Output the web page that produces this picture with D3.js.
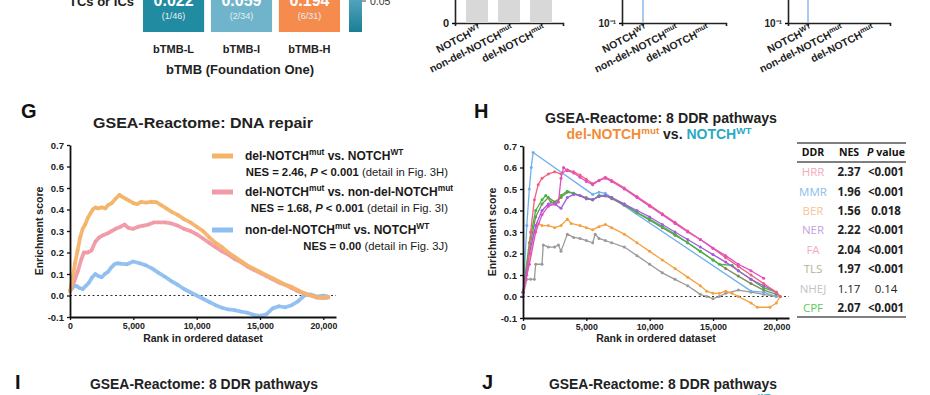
<!DOCTYPE html>
<html><head><meta charset="utf-8">
<script src="https://cdn.jsdelivr.net/npm/d3@7"></script>
<style>
body{margin:0;background:#fff;}
svg{display:block;font-family:"Liberation Sans",Arial,sans-serif;}
</style></head>
<body><svg id="c" width="930" height="395"></svg>
<script>
// ---------------- DATA ----------------
const tmbCats = ["bTMB-L","bTMB-I","bTMB-H"];
const tmbVals = ["0.022","0.059","0.194"];
const tmbFrac = ["(1/46)","(2/34)","(6/31)"];
const notchCats = ["WT","nondel","del"];
const notchLabels = [["NOTCH","WT"],["non-del-NOTCH","mut"],["del-NOTCH","mut"]];
const barVals = [0.9, 0.9, 0.9];
const logLineVal = 30;

// Panel G (rank, enrichment score)
const gDelVsWT = [[0,0.02],[200,0.08],[400,0.15],[600,0.21],[800,0.27],[1000,0.31],[1200,0.33],[1400,0.36],[1600,0.38],[1800,0.4],[2000,0.41],[2200,0.405],[2500,0.41],[2800,0.405],[3000,0.42],[3300,0.43],[3600,0.45],[3900,0.468],[4100,0.46],[4400,0.45],[4700,0.44],[5000,0.43],[5300,0.425],[5600,0.435],[6000,0.432],[6400,0.436],[6800,0.434],[7200,0.42],[7600,0.405],[8000,0.39],[8500,0.375],[9000,0.355],[9500,0.34],[10000,0.32],[10500,0.3],[11000,0.27],[11500,0.245],[12000,0.225],[12500,0.2],[13000,0.18],[13500,0.16],[14000,0.14],[14500,0.125],[15000,0.11],[15500,0.095],[16000,0.08],[16500,0.065],[17000,0.05],[17500,0.04],[18000,0.025],[18500,0.01],[19000,0.0],[19500,-0.008],[20000,-0.01],[20400,-0.005]];
const gDelVsNonDel = [[0,0.02],[300,0.06],[600,0.11],[900,0.17],[1100,0.2],[1400,0.2],[1700,0.21],[2000,0.25],[2300,0.27],[2600,0.28],[3000,0.29],[3300,0.3],[3600,0.31],[4000,0.32],[4300,0.33],[4600,0.315],[5000,0.31],[5400,0.32],[5800,0.325],[6200,0.33],[6600,0.34],[7000,0.34],[7500,0.34],[8000,0.335],[8500,0.325],[9000,0.31],[9500,0.3],[10000,0.285],[10500,0.265],[11000,0.245],[11500,0.225],[12000,0.205],[12500,0.19],[13000,0.17],[13500,0.155],[14000,0.135],[14500,0.12],[15000,0.105],[15500,0.09],[16000,0.075],[16500,0.06],[17000,0.05],[17500,0.035],[18000,0.02],[18500,0.01],[19000,0.0],[19500,-0.01],[20000,-0.012],[20400,-0.01]];
const gNonDelVsWT = [[0,0.02],[250,0.04],[500,0.045],[750,0.035],[1000,0.03],[1250,0.045],[1500,0.06],[1750,0.085],[2000,0.1],[2250,0.09],[2500,0.085],[2750,0.1],[3000,0.11],[3250,0.13],[3500,0.145],[3750,0.15],[4000,0.148],[4500,0.145],[5000,0.158],[5500,0.15],[6000,0.14],[6500,0.125],[7000,0.105],[7500,0.087],[8000,0.067],[8500,0.05],[9000,0.03],[9500,0.015],[10000,0.0],[10500,-0.015],[11000,-0.03],[11500,-0.045],[12000,-0.057],[12500,-0.065],[13000,-0.068],[13500,-0.075],[14000,-0.08],[14500,-0.09],[15000,-0.095],[15500,-0.088],[16000,-0.06],[16500,-0.05],[17000,-0.055],[17500,-0.045],[18000,-0.027],[18500,0.0],[19000,0.005],[19500,-0.005],[20000,0.0],[20400,-0.005]];
const gNES = ["2.46","1.68","0.00"];
const gP = ["< 0.001","< 0.001",""];
const gFig = ["3H","3I","3J"];

// Panel H (rank, enrichment score)
const hHRR = [[0,0.02],[300,0.1],[600,0.3],[900,0.45],[1200,0.52],[1500,0.55],[2000,0.57],[2500,0.58],[3000,0.57],[3500,0.59],[4000,0.58],[4500,0.565],[5000,0.545],[5500,0.525],[6000,0.54],[6500,0.555],[7000,0.54],[8000,0.505],[9000,0.465],[10000,0.425],[11000,0.385],[12000,0.345],[13000,0.305],[14000,0.265],[15000,0.225],[16000,0.18],[17000,0.14],[18000,0.1],[19000,0.06],[20000,0.02],[20300,0.0]];
const hMMR = [[0,0.0],[300,0.33],[500,0.5],[650,0.6],[800,0.67],[5500,0.475],[6000,0.485],[6500,0.48],[18000,0.025],[19000,0.02],[20000,0.0]];
const hBER = [[0,0.02],[300,0.1],[600,0.2],[900,0.3],[1200,0.34],[1500,0.33],[2000,0.33],[2500,0.32],[3000,0.33],[3500,0.36],[3800,0.34],[4500,0.33],[5000,0.32],[5500,0.31],[6000,0.325],[6500,0.335],[7000,0.32],[8000,0.29],[9000,0.25],[10000,0.21],[11000,0.17],[12000,0.13],[13000,0.09],[14000,0.05],[14500,0.025],[15000,0.015],[15500,0.015],[16000,0.025],[16500,0.015],[17000,0.0],[18000,-0.03],[18500,-0.05],[19500,-0.05],[20000,-0.03],[20300,0.0]];
const hNER = [[0,0.02],[500,0.2],[1000,0.33],[1500,0.4],[2000,0.43],[2500,0.43],[3000,0.41],[3500,0.46],[4000,0.475],[4500,0.47],[5000,0.455],[5500,0.45],[6000,0.465],[6500,0.47],[7000,0.46],[8000,0.43],[9000,0.4],[10000,0.37],[11000,0.335],[12000,0.3],[13000,0.265],[14000,0.23],[15000,0.195],[16000,0.16],[17000,0.12],[18000,0.08],[19000,0.05],[20000,0.02]];
const hFA = [[0,0.02],[500,0.15],[1000,0.3],[1500,0.38],[2000,0.42],[2500,0.43],[2800,0.44],[3000,0.55],[3200,0.6],[3500,0.585],[4000,0.575],[4500,0.555],[5000,0.535],[5500,0.52],[6000,0.54],[6500,0.55],[7000,0.535],[8000,0.5],[9000,0.46],[10000,0.42],[11000,0.38],[12000,0.34],[13000,0.3],[14000,0.265],[15000,0.225],[16000,0.19],[17000,0.15],[18000,0.12],[19000,0.085]];
const hTLS = [[0,0.02],[500,0.22],[1000,0.37],[1500,0.43],[2000,0.46],[2500,0.44],[3000,0.46],[3500,0.485],[4000,0.48],[5000,0.455],[5500,0.45],[6000,0.465],[6500,0.468],[7000,0.455],[8000,0.425],[9000,0.39],[10000,0.355],[11000,0.32],[12000,0.285],[13000,0.25],[14000,0.21],[15000,0.17],[16000,0.13],[17000,0.095],[18000,0.06],[19000,0.03],[20000,0.01]];
const hNHEJ = [[0,0.0],[300,0.08],[600,0.08],[900,0.08],[1000,0.15],[1500,0.15],[1600,0.24],[2000,0.23],[2500,0.23],[2800,0.24],[3000,0.21],[3500,0.29],[4000,0.275],[4500,0.27],[5000,0.26],[5500,0.25],[5700,0.29],[6000,0.27],[6500,0.26],[7000,0.25],[8000,0.23],[9000,0.19],[10000,0.15],[11000,0.11],[12000,0.08],[13000,0.05],[14000,0.01],[14500,0.0],[15000,-0.01],[15500,0.0],[16000,0.015],[17000,0.03],[18000,0.02],[19000,0.01],[20000,0.0]];
const hCPF = [[0,0.02],[500,0.25],[1000,0.4],[1500,0.45],[1800,0.47],[2200,0.44],[2600,0.43],[3000,0.47],[3500,0.49],[4000,0.48],[5000,0.46],[5500,0.45],[6000,0.47],[6500,0.47],[7000,0.46],[8000,0.43],[9000,0.39],[10000,0.36],[11000,0.325],[12000,0.29],[13000,0.25],[14000,0.21],[15000,0.17],[15500,0.15],[16500,0.145],[17000,0.12],[18000,0.08],[19000,0.04],[20000,0.02],[20300,0.0]];
const ddrNames = ["HRR","MMR","BER","NER","FA","TLS","NHEJ","CPF"];
const ddrNES = ["2.37","1.96","1.56","2.22","2.04","1.97","1.17","2.07"];
const ddrP = ["<0.001","<0.001","0.018","<0.001","<0.001","<0.001","0.14","<0.001"];
const ddrSig = [true,true,true,true,true,true,false,true];
const hSeries = [hHRR,hMMR,hBER,hNER,hFA,hTLS,hNHEJ,hCPF];

// ---------------- STYLE ----------------
const ddrLine = ["#f0607e","#70b0ea","#f5a040","#a25ae0","#e04ec4","#7a8a58","#9a9a9a","#44b444"];
const ddrText = ["#f2aab8","#8cbcea","#f7c49a","#c8a0e6","#f3aacb","#b4b48c","#c4c4c4","#5ccb5c"];
const gColors = ["#f3b46a","#f09aa6","#8fbff0"];
const FONT = '"Liberation Sans", Arial, sans-serif';

const svg = d3.select("#c");

function rich(g, x, y, segs, o) {
  const fs = o.size || 10;
  const t = g.append("text").attr("x", x).attr("y", y)
    .attr("font-size", fs).attr("font-weight", o.bold === false ? "normal" : "bold")
    .attr("text-anchor", o.anchor || "start").attr("fill", o.fill || "#111");
  let shifted = false;
  segs.forEach(s => {
    const sp = t.append("tspan").text(s.t);
    if (s.fill) sp.attr("fill", s.fill);
    if (s.it) sp.attr("font-style", "italic");
    if (s.w) sp.attr("font-weight", s.w);
    if (s.sup) {
      sp.attr("font-size", fs * 0.7).attr("dy", -fs * 0.38);
      shifted = true;
    } else if (shifted) {
      sp.attr("dy", fs * 0.38);
      shifted = false;
    }
  });
  return t;
}

// ---------------- TOP STRIP ----------------
const topG = svg.append("g");
topG.append("text").attr("x", 134).attr("y", 6).attr("text-anchor", "end")
  .attr("font-size", 13).attr("font-weight", "bold").attr("fill", "#222").text("TCs or ICs");
const tmbX = d3.scaleBand().domain(tmbCats).range([143, 340]).paddingInner(0.1);
const tmbFill = ["#218ba1", "#6fb4ca", "#f68b4e"];
tmbCats.forEach((c, i) => {
  topG.append("rect").attr("x", tmbX(c)).attr("y", -20).attr("width", tmbX.bandwidth()).attr("height", 52).attr("fill", tmbFill[i]);
  topG.append("text").attr("x", tmbX(c) + tmbX.bandwidth() / 2).attr("y", 6).attr("text-anchor", "middle")
    .attr("font-size", 16).attr("font-weight", "bold").attr("fill", "#fff").text(tmbVals[i]);
  topG.append("text").attr("x", tmbX(c) + tmbX.bandwidth() / 2).attr("y", 19).attr("text-anchor", "middle")
    .attr("font-size", 9).attr("fill", "#e4f0f4").text(tmbFrac[i]);
  topG.append("text").attr("x", tmbX(c) + tmbX.bandwidth() / 2).attr("y", 53).attr("text-anchor", "middle")
    .attr("font-size", 11).attr("font-weight", "bold").attr("fill", "#222").text(c);
});
topG.append("text").attr("x", 240).attr("y", 74).attr("text-anchor", "middle")
  .attr("font-size", 13).attr("font-weight", "bold").attr("fill", "#222").text("bTMB (Foundation One)");
const grad = svg.append("defs").append("linearGradient").attr("id", "cb").attr("x1", 0).attr("x2", 0).attr("y1", 0).attr("y2", 1);
grad.append("stop").attr("offset", "0%").attr("stop-color", "#5aa8c0");
grad.append("stop").attr("offset", "100%").attr("stop-color", "#1a7f96");
topG.append("rect").attr("x", 349).attr("y", -5).attr("width", 13).attr("height", 37).attr("fill", "url(#cb)");
topG.append("line").attr("x1", 362).attr("x2", 366).attr("y1", 1).attr("y2", 1).attr("stroke", "#444");
topG.append("text").attr("x", 370).attr("y", 5).attr("font-size", 10.5).attr("fill", "#333").text("0.05");

// small bar panels
function notchAxis(g, x0, x1, pad) {
  const x = d3.scalePoint().domain(notchCats).range([x0, x1]).padding(pad);
  const ax = g.append("g").attr("transform", "translate(0,23)")
    .call(d3.axisBottom(x).tickSize(3).tickFormat(""));
  ax.select(".domain").attr("stroke", "#222").attr("stroke-width", 1.6);
  ax.selectAll(".tick line").attr("stroke", "#222").attr("stroke-width", 1.2);
  notchCats.forEach((c, i) => {
    const lg = g.append("g").attr("transform", `translate(${x(c) + 5},31) rotate(-27)`);
    rich(lg, 0, 0, [{ t: notchLabels[i][0] }, { t: notchLabels[i][1], sup: true }], { size: 10.5, anchor: "end", fill: "#222" });
  });
  return x;
}
{
  const g = svg.append("g");
  const x = notchAxis(g, 455, 563, 0.6875);
  const y = d3.scaleLinear().domain([0, 1]).range([23, -60]);
  g.selectAll("rect.b").data(barVals).join("rect").attr("class", "b")
    .attr("x", (d, i) => x(notchCats[i]) - 11).attr("width", 22)
    .attr("y", d => y(d)).attr("height", d => y(0) - y(d)).attr("fill", "#d8d8d8");
  const ay = g.append("g").attr("transform", "translate(455,0)").call(d3.axisLeft(y).tickValues([0]).tickSize(3).tickFormat(d3.format("d")));
  ay.select(".domain").attr("stroke", "#222").attr("stroke-width", 1.6);
  ay.selectAll("text").attr("font-size", 11).attr("font-weight", "bold").attr("fill", "#222").attr("font-family", FONT);
}
[[622, 726, 0.677], [788, 890, 0.645]].forEach(([a, b, p]) => {
  const g = svg.append("g");
  const x = notchAxis(g, a, b, p);
  const y = d3.scaleLog().domain([0.1, 10]).range([23, -60]);
  g.append("line").attr("x1", x("WT")).attr("x2", x("WT")).attr("y1", y(0.1)).attr("y2", y(logLineVal))
    .attr("stroke", "#a9c9ef").attr("stroke-width", 2);
  const ay = g.append("g").attr("transform", `translate(${a},0)`).call(d3.axisLeft(y).tickValues([0.1]).tickSize(3).tickFormat(() => "10⁻¹"));
  ay.select(".domain").attr("stroke", "#222").attr("stroke-width", 1.6);
  ay.selectAll("text").attr("font-size", 10).attr("font-weight", "bold").attr("fill", "#222").attr("font-family", FONT);
});

// ---------------- GSEA PANEL helpers ----------------
function gseaScales(g, x0, yTop, yBot) {
  const x = d3.scaleLinear().domain([0, 21000]).range([x0, x0 + 266]);
  const y = d3.scaleLinear().domain([-0.1, 0.7]).range([yBot, yTop]);
  g.append("line").attr("x1", x(0)).attr("x2", x(21000)).attr("y1", y(0)).attr("y2", y(0))
    .attr("stroke", "#333").attr("stroke-width", 1).attr("stroke-dasharray", "2,2.5");
  return { x, y };
}
function drawAxes(g, x, y, titleX) {
  const ax = g.append("g").attr("transform", `translate(0,${y(-0.1)})`)
    .call(d3.axisBottom(x).tickValues([0, 5000, 10000, 15000, 20000]).tickSize(3).tickSizeOuter(0).tickFormat(d3.format(",")));
  const ay = g.append("g").attr("transform", `translate(${x(0)},0)`)
    .call(d3.axisLeft(y).tickValues(d3.range(-0.1, 0.71, 0.1)).tickSize(3).tickSizeOuter(0).tickFormat(d => d3.format(".1f")(d).replace("−", "-")));
  [ax, ay].forEach(a => {
    a.select(".domain").attr("stroke", "#111").attr("stroke-width", 1.8);
    a.selectAll(".tick line").attr("stroke", "#111").attr("stroke-width", 1.3);
    a.selectAll("text").attr("font-size", 8.8).attr("font-weight", "bold").attr("fill", "#222").attr("font-family", FONT);
  });
  ay.selectAll("text").attr("font-size", 9.5);
  g.append("text").attr("x", (x(0) + x(21000)) / 2).attr("y", 342).attr("text-anchor", "middle")
    .attr("font-size", 10.5).attr("font-weight", "bold").attr("fill", "#222").text("Rank in ordered dataset");
  g.append("text").attr("transform", `translate(${titleX},${(y(0.7) + y(-0.1)) / 2}) rotate(-90)`)
    .attr("text-anchor", "middle").attr("font-size", 10.5).attr("font-weight", "bold").attr("fill", "#222").text("Enrichment score");
}

// ---------------- PANEL G ----------------
{
  const g = svg.append("g");
  g.append("text").attr("x", 21).attr("y", 118).attr("font-size", 20).attr("font-weight", "bold").attr("fill", "#111").text("G");
  g.append("text").attr("x", 203).attr("y", 128).attr("text-anchor", "middle").attr("font-size", 15)
    .attr("textLength", 220).attr("lengthAdjust", "spacingAndGlyphs")
    .attr("font-weight", "bold").attr("fill", "#222").text("GSEA-Reactome: DNA repair");
  const { x, y } = gseaScales(g, 70, 145, 317);
  const line = d3.line().x(d => x(d[0])).y(d => y(d[1]));
  const gData = [gDelVsWT, gDelVsNonDel, gNonDelVsWT];
  [2, 1, 0].forEach(i => {
    g.append("path").datum(gData[i]).attr("d", line).attr("fill", "none")
      .attr("stroke", gColors[i]).attr("stroke-width", 3.8).attr("stroke-linejoin", "round").attr("opacity", 0.95);
    g.append("g").selectAll("circle").data(gData[i]).join("circle")
      .attr("cx", d => x(d[0])).attr("cy", d => y(d[1])).attr("r", 1.7).attr("fill", gColors[i]);
  });
  drawAxes(g, x, y, 43);
  const legY = [156, 192, 230];
  const heads = [
    [{ t: "del-NOTCH" }, { t: "mut", sup: true }, { t: " vs. NOTCH" }, { t: "WT", sup: true }],
    [{ t: "del-NOTCH" }, { t: "mut", sup: true }, { t: " vs. non-del-NOTCH" }, { t: "mut", sup: true }],
    [{ t: "non-del-NOTCH" }, { t: "mut", sup: true }, { t: " vs. NOTCH" }, { t: "WT", sup: true }]
  ];
  legY.forEach((ly, i) => {
    g.append("rect").attr("x", 212).attr("y", ly - 2.5).attr("width", 21).attr("height", 5).attr("fill", gColors[i]);
    rich(g, 245, ly + 4, heads[i], { size: 12, fill: "#1a1a1a" });
    const segs = [{ t: "NES = " + gNES[i] + (gP[i] ? ", " : "") }];
    if (gP[i]) { segs.push({ t: "P", it: true }); segs.push({ t: " " + gP[i] }); }
    segs.push({ t: " (detail in Fig. " + gFig[i] + ")", w: "normal" });
    rich(g, 448, ly + 20, segs, { size: 11.3, anchor: "end", fill: "#1a1a1a" });
  });
}

// ---------------- PANEL H ----------------
{
  const g = svg.append("g");
  g.append("text").attr("x", 474).attr("y", 118).attr("font-size", 20).attr("font-weight", "bold").attr("fill", "#111").text("H");
  g.append("text").attr("x", 661).attr("y", 123).attr("text-anchor", "middle").attr("font-size", 14)
    .attr("textLength", 232).attr("lengthAdjust", "spacingAndGlyphs")
    .attr("font-weight", "bold").attr("fill", "#222").text("GSEA-Reactome: 8 DDR pathways");
  rich(g, 659, 139, [{ t: "del-NOTCH", fill: "#f28c36" }, { t: "mut", sup: true, fill: "#f28c36" }, { t: " vs. ", fill: "#222" },
    { t: "NOTCH", fill: "#2aa9c2" }, { t: "WT", sup: true, fill: "#2aa9c2" }], { size: 14, anchor: "middle" });
  const { x, y } = gseaScales(g, 523, 146, 318);
  const line = d3.line().x(d => x(d[0])).y(d => y(d[1]));
  const order = [6, 2, 1, 5, 7, 3, 0, 4];
  order.forEach(i => {
    g.append("path").datum(hSeries[i]).attr("d", line).attr("fill", "none")
      .attr("stroke", ddrLine[i]).attr("stroke-width", 1.3).attr("stroke-linejoin", "round");
    g.append("g").selectAll("circle").data(hSeries[i]).join("circle")
      .attr("cx", d => x(d[0])).attr("cy", d => y(d[1])).attr("r", 1.5).attr("fill", ddrLine[i]);
  });
  drawAxes(g, x, y, 496);

  const tb = svg.append("g").attr("font-family", '"Open Sans", "Noto Sans", sans-serif');
  const cx = [813, 849, 886];
  const rowY = d3.scalePoint().domain(ddrNames).range([172, 308]);
  [143, 162, 317].forEach(ry => tb.append("line").attr("x1", 797).attr("x2", 906).attr("y1", ry).attr("y2", ry)
    .attr("stroke", "#555").attr("stroke-width", 1.5));
  tb.append("text").attr("x", cx[0]).attr("y", 156).attr("text-anchor", "middle").attr("font-size", 10.5).attr("font-weight", "bold").attr("fill", "#111").text("DDR");
  tb.append("text").attr("x", cx[1]).attr("y", 156).attr("text-anchor", "middle").attr("font-size", 10.5).attr("font-weight", "bold").attr("fill", "#111").text("NES");
  const ph = tb.append("text").attr("x", cx[2]).attr("y", 156).attr("text-anchor", "middle").attr("font-size", 10.5).attr("font-weight", "bold").attr("fill", "#111");
  ph.append("tspan").attr("font-style", "italic").text("P");
  ph.append("tspan").text(" value");
  ddrNames.forEach((n, i) => {
    const yy = rowY(n) + 4.2;
    tb.append("text").attr("x", cx[0]).attr("y", yy).attr("text-anchor", "middle").attr("font-size", 11.5).attr("fill", ddrText[i]).text(n);
    tb.append("text").attr("x", cx[1]).attr("y", yy).attr("text-anchor", "middle").attr("font-size", 11.5)
      .attr("font-weight", ddrSig[i] ? "bold" : "normal").attr("fill", "#222").text(ddrNES[i]);
    tb.append("text").attr("x", cx[2]).attr("y", yy).attr("text-anchor", "middle").attr("font-size", 11.5)
      .attr("font-weight", ddrSig[i] ? "bold" : "normal").attr("fill", "#222").text(ddrP[i]);
  });
}

// ---------------- BOTTOM STRIP ----------------
{
  const g = svg.append("g");
  g.append("text").attr("x", 15).attr("y", 389).attr("font-size", 20).attr("font-weight", "bold").attr("fill", "#111").text("I");
  g.append("text").attr("x", 482).attr("y", 389).attr("font-size", 20).attr("font-weight", "bold").attr("fill", "#111").text("J");
  g.append("text").attr("x", 204).attr("y", 389).attr("text-anchor", "middle").attr("font-size", 14.5).attr("font-weight", "bold")
    .attr("textLength", 228).attr("lengthAdjust", "spacingAndGlyphs").attr("fill", "#222").text("GSEA-Reactome: 8 DDR pathways");
  g.append("text").attr("x", 663).attr("y", 389).attr("text-anchor", "middle").attr("font-size", 14.5).attr("font-weight", "bold")
    .attr("textLength", 228).attr("lengthAdjust", "spacingAndGlyphs").attr("fill", "#222").text("GSEA-Reactome: 8 DDR pathways");
  g.append("text").attr("x", 758).attr("y", 399).attr("font-size", 8).attr("font-weight", "bold").attr("fill", "#2aa9c2").text("WT");
}
</script></body></html>
